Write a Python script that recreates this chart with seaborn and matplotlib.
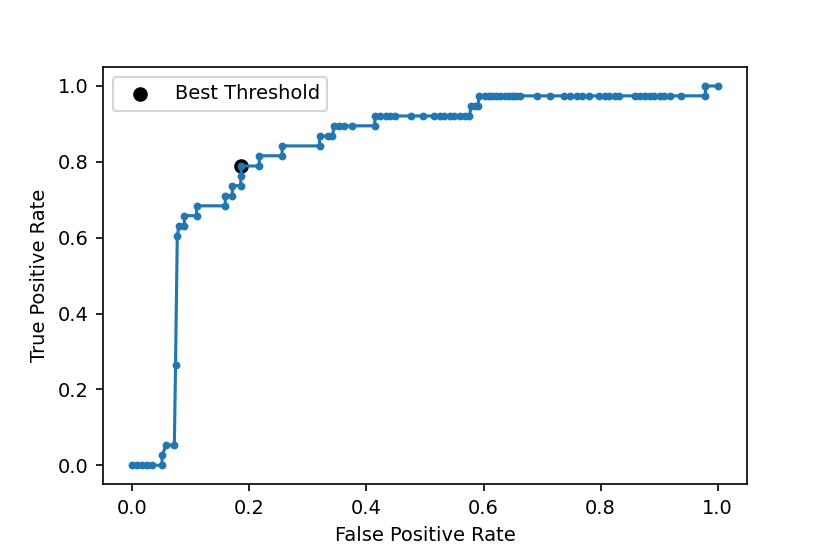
import numpy as np
import pandas as pd

import matplotlib
matplotlib.use("Agg")
import matplotlib.pyplot as plt
import seaborn as sns

# -----------------------
# ROC points
# -----------------------
fpr = [
    0.0, 0.008, 0.016, 0.025, 0.033, 0.051,
    0.051, 0.058, 0.072, 0.074, 0.077, 0.080, 0.089, 0.089, 0.110, 0.110,
    0.159, 0.159, 0.171, 0.171, 0.185, 0.186, 0.186, 0.217, 0.217, 0.256,
    0.256, 0.320, 0.320, 0.334, 0.342, 0.345, 0.354, 0.362, 0.376, 0.414,
    0.415, 0.424, 0.433, 0.441, 0.448, 0.477, 0.496, 0.516, 0.525, 0.533,
    0.542, 0.550, 0.559, 0.568, 0.576,
    0.579, 0.585, 0.590,
    0.593, 0.602, 0.609, 0.615, 0.622, 0.629, 0.636, 0.643, 0.650, 0.656,
    0.663, 0.691, 0.713, 0.738, 0.747, 0.759, 0.769, 0.781, 0.798, 0.807,
    0.815, 0.824, 0.832, 0.858, 0.867, 0.875, 0.884, 0.892, 0.901, 0.909,
    0.918, 0.938, 0.979,
    0.979, 1.0,
]
tpr = [
    0.0, 0.0, 0.0, 0.0, 0.0, 0.0,
    0.026, 0.053, 0.053, 0.263, 0.605, 0.632, 0.632, 0.658, 0.658, 0.684,
    0.684, 0.711, 0.711, 0.737, 0.737, 0.763, 0.789, 0.789, 0.816, 0.816,
    0.842, 0.842, 0.868, 0.868, 0.868, 0.895, 0.895, 0.895, 0.895, 0.895,
    0.921, 0.921, 0.921, 0.921, 0.921, 0.921, 0.921, 0.921, 0.921, 0.921,
    0.921, 0.921, 0.921, 0.921, 0.921,
    0.947, 0.947, 0.947,
    0.974, 0.974, 0.974, 0.974, 0.974, 0.974, 0.974, 0.974, 0.974, 0.974,
    0.974, 0.974, 0.974, 0.974, 0.974, 0.974, 0.974, 0.974, 0.974, 0.974,
    0.974, 0.974, 0.974, 0.974, 0.974, 0.974, 0.974, 0.974, 0.974, 0.974,
    0.974, 0.974, 0.974,
    1.0, 1.0,
]

best_fpr = [0.186]
best_tpr = [0.789]

roc = pd.DataFrame({"fpr": fpr, "tpr": tpr})
best = pd.DataFrame({"fpr": best_fpr, "tpr": best_tpr})

plt.rcParams["font.size"] = 9.3

DPI = 150
fig, ax = plt.subplots(figsize=(830 / DPI, 554 / DPI), dpi=DPI)

# scatter goes under the line (collections zorder 1 < lines zorder 2)
sns.scatterplot(data=best, x="fpr", y="tpr", color="black", s=36,
                edgecolor="black", linewidth=1.0, label="Best Threshold", ax=ax)
sns.lineplot(data=roc, x="fpr", y="tpr", sort=False, estimator=None,
             marker=".", markersize=6, markeredgecolor="#1f77b4",
             color="#1f77b4", linewidth=1.5, ax=ax)

ax.set_xlabel("False Positive Rate")
ax.set_ylabel("True Positive Rate")
ax.legend(loc="upper left")

fig.subplots_adjust(left=0.124, right=0.9, top=0.879, bottom=0.126)
fig.savefig("out.png", dpi=DPI)
plt.close(fig)
